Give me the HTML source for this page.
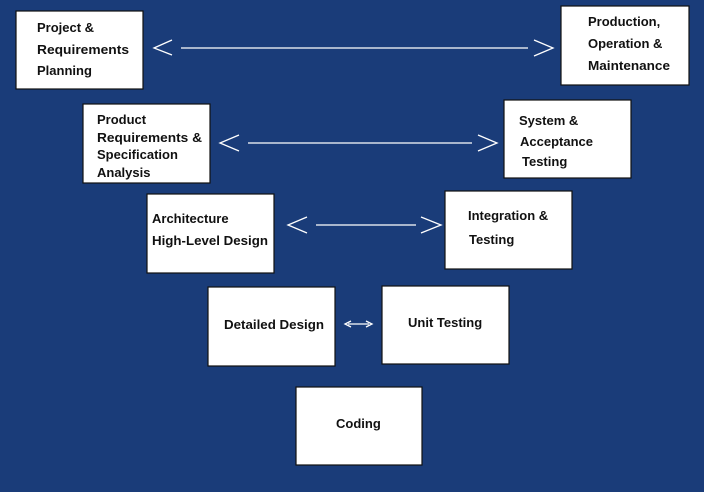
<!DOCTYPE html>
<html><head><style>html,body{margin:0;padding:0;background:#1a3c79;}svg{display:block}</style></head>
<body>
<svg width="704" height="492" xmlns="http://www.w3.org/2000/svg" font-family="Liberation Sans, Arial, sans-serif" font-size="13" font-weight="bold">
<rect width="704" height="492" fill="#1a3c79"/>
<g fill="#fff" stroke="#111" stroke-width="1.2">
<rect x="16" y="11" width="127" height="78"/>
<rect x="83" y="104" width="127" height="79"/>
<rect x="147" y="194" width="127" height="79"/>
<rect x="561" y="6" width="128" height="79"/>
<rect x="504" y="100" width="127" height="78"/>
<rect x="445" y="191" width="127" height="78"/>
<rect x="208" y="287" width="127" height="79"/>
<rect x="382" y="286" width="127" height="78"/>
<rect x="296" y="387" width="126" height="78"/>
</g>
<g fill="#111">
<text x="37" y="32">Project &amp;</text>
<text x="37" y="54" textLength="92" lengthAdjust="spacingAndGlyphs">Requirements</text>
<text x="37" y="75">Planning</text>
<text x="97" y="124">Product</text>
<text x="97" y="142" textLength="105" lengthAdjust="spacingAndGlyphs">Requirements &amp;</text>
<text x="97" y="159">Specification</text>
<text x="97" y="177">Analysis</text>
<text x="152" y="223">Architecture</text>
<text x="152" y="245" textLength="116" lengthAdjust="spacingAndGlyphs">High-Level Design</text>
<text x="588" y="26">Production,</text>
<text x="588" y="48">Operation &amp;</text>
<text x="588" y="70" textLength="82" lengthAdjust="spacingAndGlyphs">Maintenance</text>
<text x="519" y="125">System &amp;</text>
<text x="520" y="146">Acceptance</text>
<text x="522" y="166">Testing</text>
<text x="468" y="220">Integration &amp;</text>
<text x="469" y="244">Testing</text>
<text x="224" y="329" textLength="100" lengthAdjust="spacingAndGlyphs">Detailed Design</text>
<text x="408" y="327">Unit Testing</text>
<text x="336" y="428">Coding</text>
</g>
<g stroke="#fff" stroke-width="1.3" fill="none">
<polyline points="172,40 154,48 172,55"/>
<line x1="181" y1="48" x2="528" y2="48"/>
<polyline points="534,40 553,48 534,56"/>
<polyline points="239,135 220,143 239,151"/>
<line x1="248" y1="143" x2="472" y2="143"/>
<polyline points="478,135 497,143 478,151"/>
<polyline points="307,217 288,225 307,233"/>
<line x1="316" y1="225" x2="416" y2="225"/>
<polyline points="421,217 441,225 421,233"/>
<polyline points="351,321 345,324 351,327"/>
<line x1="348" y1="324" x2="369" y2="324"/>
<polyline points="366,321 372,324 366,327"/>
</g>
</svg>
</body></html>
